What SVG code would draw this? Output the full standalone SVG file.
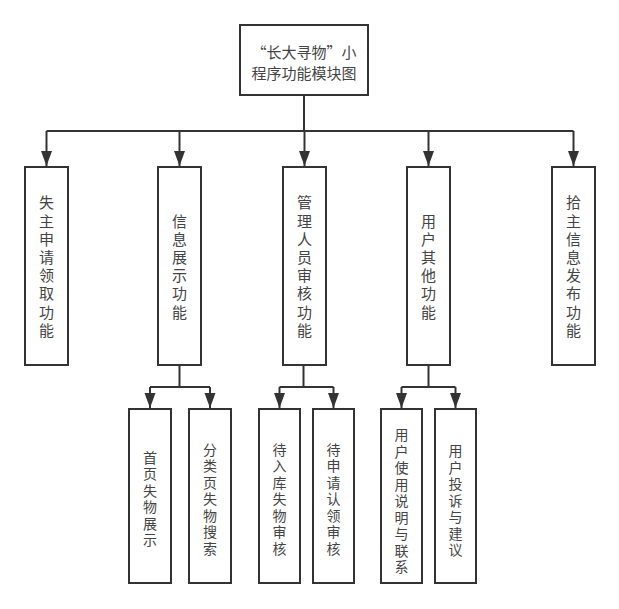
<svg xmlns="http://www.w3.org/2000/svg" width="619" height="609" viewBox="0 0 619 609">
<style>
.box{fill:#fff;stroke:#333;stroke-width:2}
.ln{fill:none;stroke:#333;stroke-width:2}
text{font-family:"Noto Sans CJK SC","Noto Sans",sans-serif;fill:#444;text-anchor:middle;dominant-baseline:central}
.t1{font-size:15px}
.t2{font-size:14px}
</style>
<defs>
<marker id="ah" markerUnits="userSpaceOnUse" markerWidth="16" markerHeight="12" refX="15" refY="5.5" orient="auto">
<path d="M0,0 L15,5.5 L0,11 z" fill="#333"/>
</marker>
</defs>
<rect width="619" height="609" fill="#fff"/>
<g id="connectors">
<path class="ln" d="M304,95 V131 M46.5,131 H573.5"/>
<path class="ln" d="M46.5,131 V166" marker-end="url(#ah)"/>
<path class="ln" d="M179.5,131 V166" marker-end="url(#ah)"/>
<path class="ln" d="M304.5,131 V166" marker-end="url(#ah)"/>
<path class="ln" d="M428.5,131 V166" marker-end="url(#ah)"/>
<path class="ln" d="M573.5,131 V166" marker-end="url(#ah)"/>
<path class="ln" d="M179.5,365 V387 M150,387 H210 M303.5,365 V387 M279.5,387 H333.5 M428.5,365 V387 M401.5,387 H455.5"/>
<path class="ln" d="M150,387 V408" marker-end="url(#ah)"/>
<path class="ln" d="M210,387 V408" marker-end="url(#ah)"/>
<path class="ln" d="M279.5,387 V408" marker-end="url(#ah)"/>
<path class="ln" d="M333.5,387 V408" marker-end="url(#ah)"/>
<path class="ln" d="M401.5,387 V408" marker-end="url(#ah)"/>
<path class="ln" d="M455.5,387 V408" marker-end="url(#ah)"/>
</g>
<g id="root">
<rect class="box" x="240" y="25" width="128" height="70"/>
<text class="t1" x="304" y="51">“长大寻物”小</text>
<text class="t1" x="304" y="72">程序功能模块图</text>
</g>
<g id="n1">
<rect class="box" x="25" y="167" width="43" height="198"/>
<text class="t1"><tspan x="46.5" y="201.3">失</tspan><tspan x="46.5" dy="18.2">主</tspan><tspan x="46.5" dy="18.2">申</tspan><tspan x="46.5" dy="18.2">请</tspan><tspan x="46.5" dy="18.2">领</tspan><tspan x="46.5" dy="18.2">取</tspan><tspan x="46.5" dy="18.2">功</tspan><tspan x="46.5" dy="18.2">能</tspan></text>
</g>
<g id="n2">
<rect class="box" x="158" y="167" width="43" height="198"/>
<text class="t1"><tspan x="179.5" y="219.5">信</tspan><tspan x="179.5" dy="18.2">息</tspan><tspan x="179.5" dy="18.2">展</tspan><tspan x="179.5" dy="18.2">示</tspan><tspan x="179.5" dy="18.2">功</tspan><tspan x="179.5" dy="18.2">能</tspan></text>
</g>
<g id="n3">
<rect class="box" x="283" y="167" width="43" height="198"/>
<text class="t1"><tspan x="304.5" y="201.3">管</tspan><tspan x="304.5" dy="18.2">理</tspan><tspan x="304.5" dy="18.2">人</tspan><tspan x="304.5" dy="18.2">员</tspan><tspan x="304.5" dy="18.2">审</tspan><tspan x="304.5" dy="18.2">核</tspan><tspan x="304.5" dy="18.2">功</tspan><tspan x="304.5" dy="18.2">能</tspan></text>
</g>
<g id="n4">
<rect class="box" x="407" y="167" width="43" height="198"/>
<text class="t1"><tspan x="428.5" y="219.5">用</tspan><tspan x="428.5" dy="18.2">户</tspan><tspan x="428.5" dy="18.2">其</tspan><tspan x="428.5" dy="18.2">他</tspan><tspan x="428.5" dy="18.2">功</tspan><tspan x="428.5" dy="18.2">能</tspan></text>
</g>
<g id="n5">
<rect class="box" x="552" y="167" width="43" height="198"/>
<text class="t1"><tspan x="573.5" y="201.3">拾</tspan><tspan x="573.5" dy="18.2">主</tspan><tspan x="573.5" dy="18.2">信</tspan><tspan x="573.5" dy="18.2">息</tspan><tspan x="573.5" dy="18.2">发</tspan><tspan x="573.5" dy="18.2">布</tspan><tspan x="573.5" dy="18.2">功</tspan><tspan x="573.5" dy="18.2">能</tspan></text>
</g>
<g id="n21">
<rect class="box" x="129" y="409" width="42" height="174"/>
<text class="t2"><tspan x="150" y="456.8">首</tspan><tspan x="150" dy="16.5">页</tspan><tspan x="150" dy="16.5">失</tspan><tspan x="150" dy="16.5">物</tspan><tspan x="150" dy="16.5">展</tspan><tspan x="150" dy="16.5">示</tspan></text>
</g>
<g id="n22">
<rect class="box" x="189" y="409" width="42" height="174"/>
<text class="t2"><tspan x="210" y="448.5">分</tspan><tspan x="210" dy="16.5">类</tspan><tspan x="210" dy="16.5">页</tspan><tspan x="210" dy="16.5">失</tspan><tspan x="210" dy="16.5">物</tspan><tspan x="210" dy="16.5">搜</tspan><tspan x="210" dy="16.5">索</tspan></text>
</g>
<g id="n31">
<rect class="box" x="259" y="409" width="41" height="174"/>
<text class="t2"><tspan x="279.5" y="448.5">待</tspan><tspan x="279.5" dy="16.5">入</tspan><tspan x="279.5" dy="16.5">库</tspan><tspan x="279.5" dy="16.5">失</tspan><tspan x="279.5" dy="16.5">物</tspan><tspan x="279.5" dy="16.5">审</tspan><tspan x="279.5" dy="16.5">核</tspan></text>
</g>
<g id="n32">
<rect class="box" x="313" y="409" width="41" height="174"/>
<text class="t2"><tspan x="333.5" y="448.5">待</tspan><tspan x="333.5" dy="16.5">申</tspan><tspan x="333.5" dy="16.5">请</tspan><tspan x="333.5" dy="16.5">认</tspan><tspan x="333.5" dy="16.5">领</tspan><tspan x="333.5" dy="16.5">审</tspan><tspan x="333.5" dy="16.5">核</tspan></text>
</g>
<g id="n41">
<rect class="box" x="381" y="409" width="41" height="174"/>
<text class="t2"><tspan x="401.5" y="434">用</tspan><tspan x="401.5" dy="16.5">户</tspan><tspan x="401.5" dy="16.5">使</tspan><tspan x="401.5" dy="16.5">用</tspan><tspan x="401.5" dy="16.5">说</tspan><tspan x="401.5" dy="16.5">明</tspan><tspan x="401.5" dy="16.5">与</tspan><tspan x="401.5" dy="16.5">联</tspan><tspan x="401.5" dy="16.5">系</tspan></text>
</g>
<g id="n42">
<rect class="box" x="435" y="409" width="41" height="174"/>
<text class="t2"><tspan x="455.5" y="450">用</tspan><tspan x="455.5" dy="16.5">户</tspan><tspan x="455.5" dy="16.5">投</tspan><tspan x="455.5" dy="16.5">诉</tspan><tspan x="455.5" dy="16.5">与</tspan><tspan x="455.5" dy="16.5">建</tspan><tspan x="455.5" dy="16.5">议</tspan></text>
</g>
</svg>
